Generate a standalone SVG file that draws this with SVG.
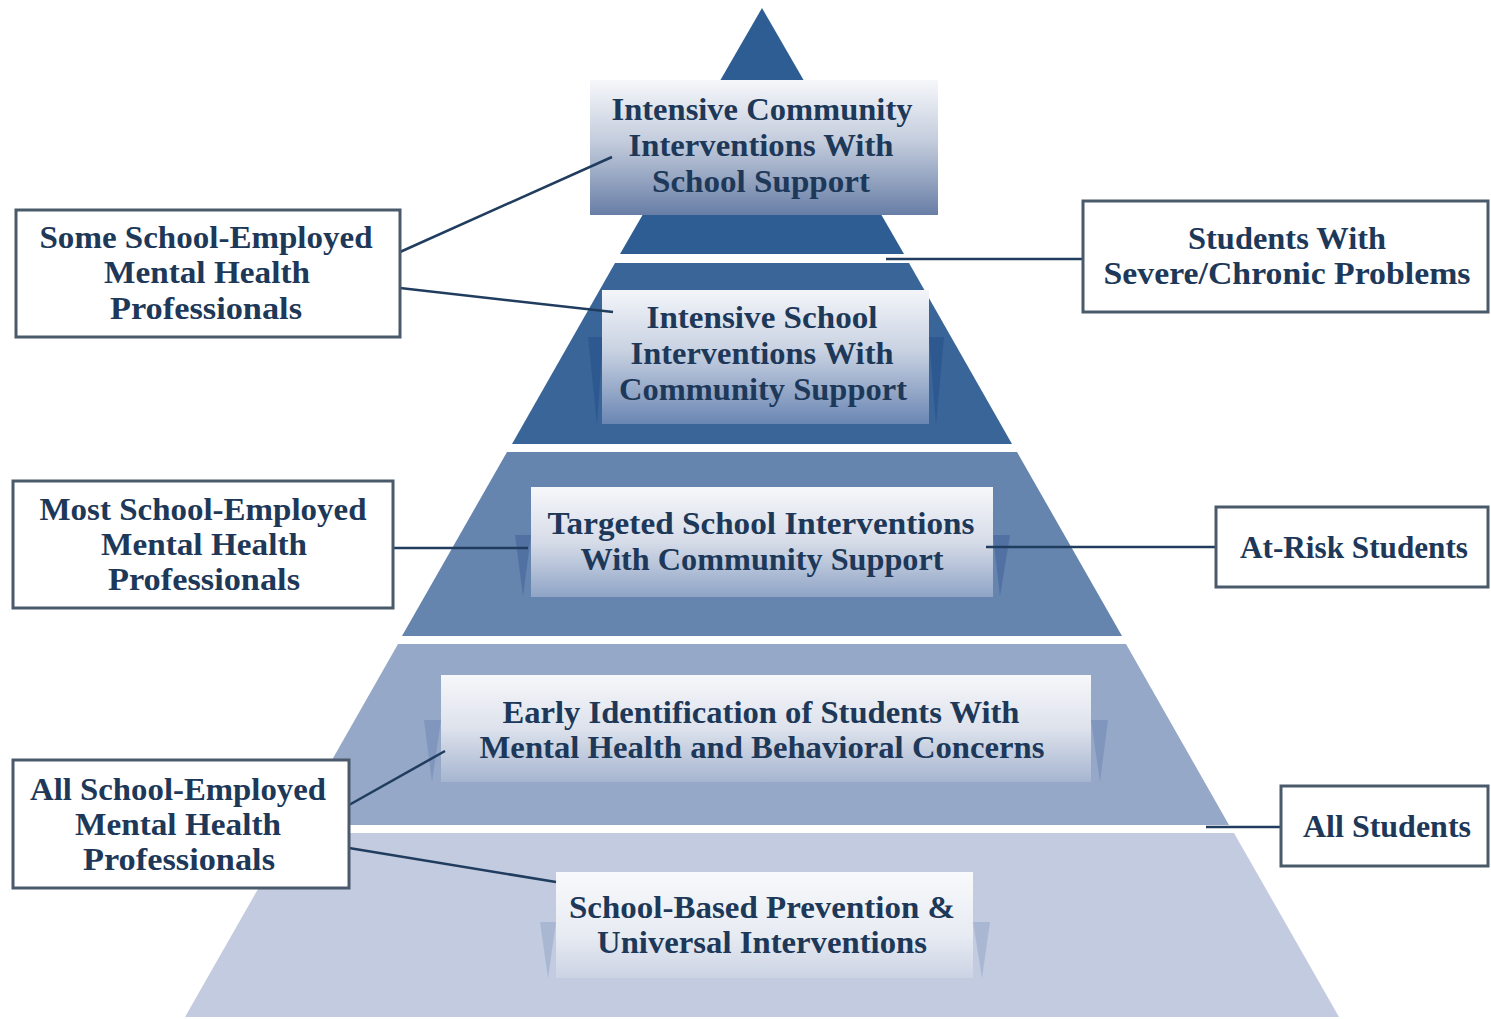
<svg xmlns="http://www.w3.org/2000/svg" width="1491" height="1019" viewBox="0 0 1491 1019">
<defs>
<linearGradient id="g1" x1="0" y1="0" x2="0" y2="1"><stop offset="0" stop-color="#f6f7fa"/><stop offset="0.45" stop-color="#c4cddd"/><stop offset="1" stop-color="#687ea6"/></linearGradient>
<linearGradient id="g2" x1="0" y1="0" x2="0" y2="1"><stop offset="0" stop-color="#f3f5f9"/><stop offset="0.45" stop-color="#c9d2e2"/><stop offset="1" stop-color="#6a86b3"/></linearGradient>
<linearGradient id="g3" x1="0" y1="0" x2="0" y2="1"><stop offset="0" stop-color="#f6f7fa"/><stop offset="0.5" stop-color="#d6dce8"/><stop offset="1" stop-color="#8fa4c6"/></linearGradient>
<linearGradient id="g4" x1="0" y1="0" x2="0" y2="1"><stop offset="0" stop-color="#f6f7fa"/><stop offset="0.5" stop-color="#dde2ec"/><stop offset="1" stop-color="#a6b5d0"/></linearGradient>
<linearGradient id="g5" x1="0" y1="0" x2="0" y2="1"><stop offset="0" stop-color="#f8f9fb"/><stop offset="0.6" stop-color="#e7ebf2"/><stop offset="1" stop-color="#cbd3e4"/></linearGradient>
<style>
.lbl{font-family:"Liberation Serif","Times New Roman",serif;font-weight:bold;font-size:31px;fill:#1d3858;text-anchor:middle}
.side{fill:#ffffff;stroke:#4b5a6b;stroke-width:3}
.conn{stroke:#203c5e;stroke-width:2.5;fill:none}
.fold{opacity:0.55}
</style>
</defs>
<rect width="1491" height="1019" fill="#ffffff"/>

<g id="tier1">
<polygon points="762,8 904,254 620,254" fill="#2d5d93"/>
<rect x="590" y="80" width="348" height="135" fill="url(#g1)"/>
<text class="lbl" x="762" y="120" textLength="301" lengthAdjust="spacingAndGlyphs">Intensive Community</text>
<text class="lbl" x="761" y="156" textLength="265" lengthAdjust="spacingAndGlyphs">Interventions With</text>
<text class="lbl" x="761" y="192" textLength="218" lengthAdjust="spacingAndGlyphs">School Support</text>
</g>

<g id="tier2">
<polygon points="615,263 909,263 1012,444 512,444" fill="#3a6598"/>
<polygon class="fold" points="588,337 603,337 597,425" fill="#24508a"/>
<polygon class="fold" points="929,337 944,337 936,425" fill="#24508a"/>
<rect x="602" y="290" width="327" height="134" fill="url(#g2)"/>
<text class="lbl" x="762" y="328" textLength="231" lengthAdjust="spacingAndGlyphs">Intensive School</text>
<text class="lbl" x="762" y="364" textLength="263" lengthAdjust="spacingAndGlyphs">Interventions With</text>
<text class="lbl" x="763" y="400" textLength="288" lengthAdjust="spacingAndGlyphs">Community Support</text>
</g>

<g id="tier3">
<polygon points="507,452 1017,452 1122,636 402,636" fill="#6584ae"/>
<polygon class="fold" points="515,535 531,535 523,596" fill="#3f6399"/>
<polygon class="fold" points="993,535 1010,535 1000,596" fill="#3f6399"/>
<rect x="531" y="487" width="462" height="110" fill="url(#g3)"/>
<text class="lbl" x="761" y="534" textLength="427" lengthAdjust="spacingAndGlyphs">Targeted School Interventions</text>
<text class="lbl" x="762" y="570" textLength="363" lengthAdjust="spacingAndGlyphs">With Community Support</text>
</g>

<g id="tier4">
<polygon points="398,644 1126,644 1229,825 295,825" fill="#95a8c8"/>
<polygon class="fold" points="424,720 441,720 432,782" fill="#6f86b2"/>
<polygon class="fold" points="1091,720 1108,720 1100,782" fill="#6f86b2"/>
<rect x="441" y="675" width="650" height="107" fill="url(#g4)"/>
<text class="lbl" x="761" y="723" textLength="517" lengthAdjust="spacingAndGlyphs">Early Identification of Students With</text>
<text class="lbl" x="762" y="758" textLength="565" lengthAdjust="spacingAndGlyphs">Mental Health and Behavioral Concerns</text>
</g>

<g id="tier5">
<polygon points="290,833 1234,833 1339,1017 185,1017" fill="#c2cbdf"/>
<polygon class="fold" points="540,922 556,922 548,978" fill="#96a8c9"/>
<polygon class="fold" points="973,922 990,922 982,978" fill="#96a8c9"/>
<rect x="556" y="872" width="417" height="106" fill="url(#g5)"/>
<text class="lbl" x="762" y="918" textLength="386" lengthAdjust="spacingAndGlyphs">School-Based Prevention &amp;</text>
<text class="lbl" x="762" y="953" textLength="330" lengthAdjust="spacingAndGlyphs">Universal Interventions</text>
</g>

<g id="connectors">
<line class="conn" x1="400" y1="252" x2="612" y2="157"/>
<line class="conn" x1="400" y1="288" x2="613" y2="312"/>
<line class="conn" x1="886" y1="259" x2="1083" y2="259"/>
<line class="conn" x1="393" y1="548" x2="528" y2="548"/>
<line class="conn" x1="986" y1="547" x2="1216" y2="547"/>
<line class="conn" x1="349" y1="805" x2="445" y2="751"/>
<line class="conn" x1="349" y1="848" x2="556" y2="882"/>
<line class="conn" x1="1206" y1="827" x2="1281" y2="827"/>
</g>

<g id="some-professionals">
<rect class="side" x="16" y="210" width="384" height="127"/>
<text class="lbl" x="206" y="248" textLength="333" lengthAdjust="spacingAndGlyphs">Some School-Employed</text>
<text class="lbl" x="207" y="283" textLength="206" lengthAdjust="spacingAndGlyphs">Mental Health</text>
<text class="lbl" x="206" y="319" textLength="192" lengthAdjust="spacingAndGlyphs">Professionals</text>
</g>

<g id="most-professionals">
<rect class="side" x="13" y="481" width="380" height="127"/>
<text class="lbl" x="203" y="520" textLength="327" lengthAdjust="spacingAndGlyphs">Most School-Employed</text>
<text class="lbl" x="204" y="555" textLength="206" lengthAdjust="spacingAndGlyphs">Mental Health</text>
<text class="lbl" x="204" y="590" textLength="192" lengthAdjust="spacingAndGlyphs">Professionals</text>
</g>

<g id="all-professionals">
<rect class="side" x="13" y="760" width="336" height="128"/>
<text class="lbl" x="178" y="800" textLength="296" lengthAdjust="spacingAndGlyphs">All School-Employed</text>
<text class="lbl" x="178" y="835" textLength="206" lengthAdjust="spacingAndGlyphs">Mental Health</text>
<text class="lbl" x="179" y="870" textLength="192" lengthAdjust="spacingAndGlyphs">Professionals</text>
</g>

<g id="severe-students">
<rect class="side" x="1083" y="201" width="405" height="111"/>
<text class="lbl" x="1287" y="249" textLength="198" lengthAdjust="spacingAndGlyphs">Students With</text>
<text class="lbl" x="1287" y="284" textLength="367" lengthAdjust="spacingAndGlyphs">Severe/Chronic Problems</text>
</g>

<g id="at-risk-students">
<rect class="side" x="1216" y="507" width="272" height="80"/>
<text class="lbl" x="1354" y="558" textLength="228" lengthAdjust="spacingAndGlyphs">At-Risk Students</text>
</g>

<g id="all-students">
<rect class="side" x="1281" y="786" width="207" height="80"/>
<text class="lbl" x="1387" y="837" textLength="168" lengthAdjust="spacingAndGlyphs">All Students</text>
</g>
</svg>
